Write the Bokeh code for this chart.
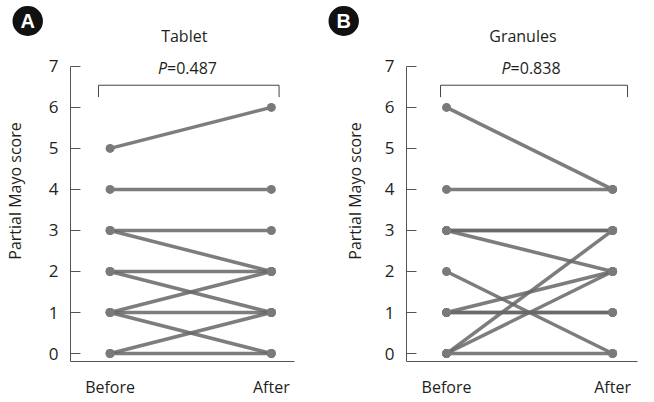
from bokeh.plotting import figure
from bokeh.layouts import row
from bokeh.models import Label, FixedTicker, Range1d, Title
from bokeh.embed import file_html
from bokeh.resources import INLINE

# ---- data ----
x_labels = ["Before", "After"]
y_ticks = [0, 1, 2, 3, 4, 5, 6, 7]

tablet_before = [5, 4, 3, 3, 2, 2, 1, 1, 1, 0, 0]
tablet_after = [6, 4, 3, 2, 2, 1, 2, 1, 0, 1, 0]

granules_before = [6, 4, 3, 3, 3, 2, 1, 1, 1, 0, 0, 0]
granules_after = [4, 4, 3, 3, 2, 0, 2, 1, 1, 3, 2, 0]

titles = ["Tablet", "Granules"]
p_values = ["=0.487", "=0.838"]
badges = ["A", "B"]

FONT = "Open Sans"
AXIS_COLOR = "#555555"
TEXT_COLOR = "#231f20"
FIG_H = 400
TOP = 20
Y_END = 7 + (66 - TOP) / 41.15


def make_panel(before, after, title, pval, badge, width, border_left, border_right,
               xr, bracket_x, p_bound, badge_off, ylab_standoff):
    p = figure(width=width, height=FIG_H,
               x_range=Range1d(*xr), y_range=Range1d(-0.194, Y_END),
               output_backend="svg", toolbar_location=None,
               min_border_left=border_left, min_border_right=border_right,
               min_border_top=TOP, min_border_bottom=FIG_H - 362)
    p.outline_line_color = None
    p.xgrid.visible = False
    p.ygrid.visible = False

    # y axis
    ya = p.yaxis[0]
    ya.bounds = (-0.194, 7)
    ya.ticker = FixedTicker(ticks=y_ticks)
    ya.major_tick_in = 10
    ya.major_tick_out = 0
    ya.minor_tick_in = 0
    ya.minor_tick_out = 0
    ya.axis_line_color = AXIS_COLOR
    ya.major_tick_line_color = AXIS_COLOR
    ya.major_label_text_font = FONT
    ya.major_label_text_font_size = "17px"
    ya.major_label_text_color = TEXT_COLOR
    ya.major_label_standoff = 12
    ya.axis_label = "Partial Mayo score"
    ya.axis_label_text_font = FONT
    ya.axis_label_text_font_style = "normal"
    ya.axis_label_text_font_size = "16px"
    ya.axis_label_text_color = TEXT_COLOR
    ya.axis_label_standoff = ylab_standoff

    # x axis
    xa = p.xaxis[0]
    xa.ticker = FixedTicker(ticks=[0, 1])
    xa.major_label_overrides = {0: x_labels[0], 1: x_labels[1]}
    xa.major_tick_in = 0
    xa.major_tick_out = 0
    xa.minor_tick_in = 0
    xa.minor_tick_out = 0
    xa.axis_line_color = AXIS_COLOR
    xa.major_label_text_font = FONT
    xa.major_label_text_font_size = "16px"
    xa.major_label_text_color = TEXT_COLOR
    xa.major_label_standoff = 14

    # paired lines
    xs = [[0, 1] for _ in before]
    ys = [[b, a] for b, a in zip(before, after)]
    p.multi_line(xs=xs, ys=ys, line_color="#666666", line_alpha=0.85, line_width=3.5)
    p.scatter(x=[0] * len(before), y=before, size=9, fill_color="#7a7a7a",
              line_color=None)
    p.scatter(x=[1] * len(after), y=after, size=9, fill_color="#7a7a7a",
              line_color=None)

    # bracket
    bx0, bx1 = bracket_x
    p.line(x=[bx0, bx0, bx1, bx1], y=[6.25, 6.54, 6.54, 6.25],
           line_color="#444444", line_width=1)

    # P value
    p.add_layout(Label(x=p_bound, y=6.95, text="P", text_font=FONT,
                       text_font_style="italic", text_font_size="16px",
                       text_color=TEXT_COLOR, text_align="right",
                       text_baseline="middle"))
    p.add_layout(Label(x=p_bound, y=6.95, text=pval, text_font=FONT,
                       text_font_size="16px", text_color=TEXT_COLOR,
                       text_align="left", text_baseline="middle"))
    # title
    p.add_layout(Label(x=0.46, y=7.73, text=title, text_font=FONT,
                       text_font_size="16px", text_color=TEXT_COLOR,
                       text_align="center", text_baseline="middle"))
    # badge as a Title in the top panel (not clipped to the frame)
    t = Title(text=badge, align="left", offset=badge_off, standoff=-31,
              text_font="Liberation Sans", text_font_style="bold",
              text_font_size="20px", text_color="white",
              background_fill_color="#111111", border_radius=15,
              padding=dict(left=8, right=8, top=4, bottom=4))
    p.add_layout(t, "above")
    return p


pA = make_panel(tablet_before, tablet_after, titles[0], p_values[0], badges[0],
                width=320, border_left=62, border_right=26,
                xr=(-0.2455, 1.1437), bracket_x=(-0.072, 1.048),
                p_bound=0.353, badge_off=-58, ylab_standoff=20)
pB = make_panel(granules_before, granules_after, titles[1], p_values[1], badges[1],
                width=318, border_left=86, border_right=1,
                xr=(-0.241, 1.15), bracket_x=(-0.036, 1.09),
                p_bound=0.386, badge_off=-78, ylab_standoff=16)

layout = row(pA, pB)
open("out.html", "w").write(file_html(layout, INLINE))
